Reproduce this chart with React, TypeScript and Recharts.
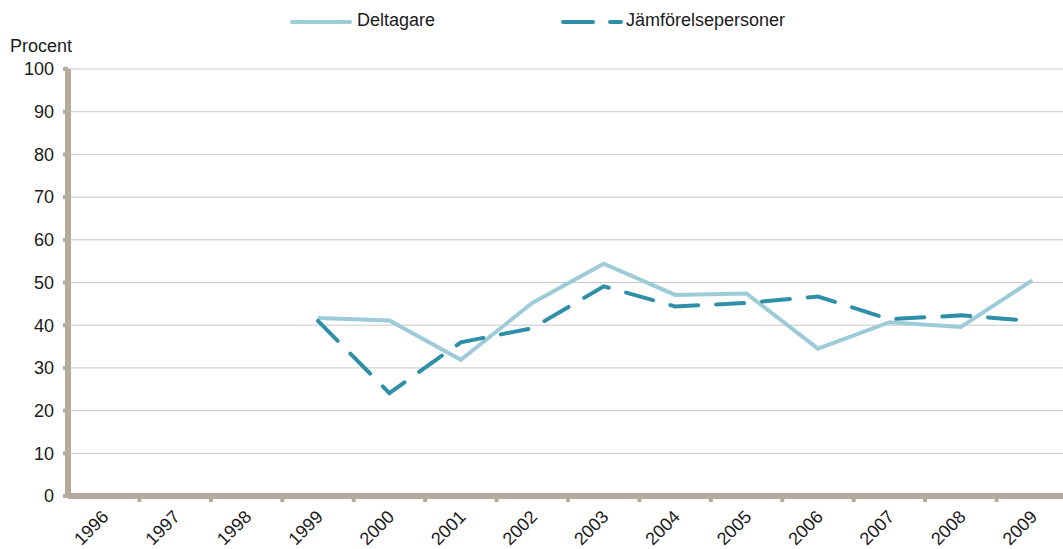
import React from "react";
import {
  LineChart,
  Line,
  XAxis,
  YAxis,
  CartesianGrid,
} from "recharts";

const years = [
  "1996", "1997", "1998", "1999", "2000", "2001", "2002",
  "2003", "2004", "2005", "2006", "2007", "2008", "2009",
];

const deltagare = [
  null, null, null, 41.7, 41.1, 31.9, 45.2,
  54.4, 47.1, 47.4, 34.5, 40.7, 39.6, 50.5,
];

const jamforelse = [
  null, null, null, 41.0, 24.1, 36.0, 39.3,
  49.1, 44.4, 45.2, 46.7, 41.4, 42.3, 41.0,
];

const yTicks = [0, 10, 20, 30, 40, 50, 60, 70, 80, 90, 100];

const data = years.map((year, i) => ({
  year,
  deltagare: deltagare[i],
  jamforelse: jamforelse[i],
}));

const FONT = "'Liberation Sans', Arial, sans-serif";
const AXIS = "#b5ab9c";
const LIGHT = "#9dcbd7";
const DARK = "#2f8fa8";

const CHART_W = 1090;
const CHART_H = 549;
const PLOT_LEFT = 68;
const PLOT_RIGHT_MARGIN = 22;
const BAND = (CHART_W - PLOT_LEFT - PLOT_RIGHT_MARGIN) / years.length;

const YearTick = (props: any) => {
  const { x, y, payload } = props;
  const tx = x + 6;
  const ty = y + 14;
  return (
    <g>
      <line
        x1={x + BAND / 2}
        x2={x + BAND / 2}
        y1={y - 8}
        y2={y - 2}
        stroke={AXIS}
        strokeWidth={4}
      />
      <text
        x={tx}
        y={ty}
        textAnchor="end"
        transform={`rotate(-45, ${tx}, ${ty})`}
        fontSize={18}
        fontFamily={FONT}
        fill="#1a1a1a"
      >
        {payload.value}
      </text>
    </g>
  );
};

export default function App() {
  return (
    <div
      style={{
        position: "fixed",
        left: 0,
        top: 0,
        width: 1063,
        height: 549,
        overflow: "hidden",
        background: "#fff",
        fontFamily: FONT,
        color: "#1a1a1a",
        fontSize: 18,
      }}
    >
      <svg width={70} height={10} style={{ position: "absolute", left: 289, top: 17 }}>
        <line x1={3} x2={61} y1={5} y2={5} stroke={LIGHT} strokeWidth={4} strokeLinecap="round" />
      </svg>
      <span style={{ position: "absolute", left: 357, top: 10 }}>Deltagare</span>
      <svg width={70} height={10} style={{ position: "absolute", left: 560, top: 17 }}>
        <line x1={3} x2={61} y1={5} y2={5} stroke={DARK} strokeWidth={4} strokeLinecap="round" strokeDasharray="30 17" />
      </svg>
      <span style={{ position: "absolute", left: 626, top: 10 }}>Jämförelsepersoner</span>
      <div style={{ position: "absolute", left: 10, top: 36 }}>Procent</div>
      <LineChart
        width={CHART_W}
        height={CHART_H}
        data={data}
        margin={{ top: 69, right: PLOT_RIGHT_MARGIN, bottom: 0, left: 0 }}
      >
        <CartesianGrid vertical={false} stroke="#c8c8c8" strokeWidth={1} />
        <XAxis
          dataKey="year"
          scale="band"
          height={53}
          interval={0}
          axisLine={{ stroke: AXIS, strokeWidth: 6 }}
          tickLine={false}
          tick={<YearTick />}
        />
        <YAxis
          domain={[0, 100]}
          ticks={yTicks}
          width={PLOT_LEFT}
          axisLine={{ stroke: AXIS, strokeWidth: 6 }}
          tickLine={{ stroke: AXIS, strokeWidth: 4 }}
          tickSize={5}
          tickMargin={9}
          tick={{ fontSize: 18, fill: "#1a1a1a", fontFamily: FONT }}
        />
        <Line
          type="linear"
          dataKey="deltagare"
          stroke={LIGHT}
          strokeWidth={4}
          dot={false}
          isAnimationActive={false}
        />
        <Line
          type="linear"
          dataKey="jamforelse"
          stroke={DARK}
          strokeWidth={4}
          strokeDasharray="28 18"
          strokeLinecap="round"
          dot={false}
          isAnimationActive={false}
        />
      </LineChart>
    </div>
  );
}
